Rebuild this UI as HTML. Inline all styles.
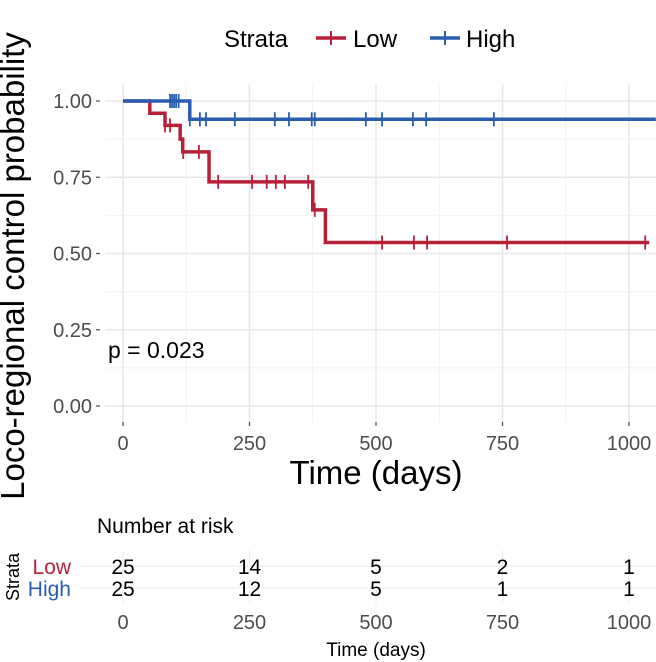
<!DOCTYPE html>
<html><head><meta charset="utf-8"><style>
body{margin:0;background:#fff}
svg{display:block;font-family:"Liberation Sans",sans-serif}
</style></head><body>
<svg id="c" width="656" height="662" viewBox="0 0 656 662">
<g id="grid"></g>
<g id="axes"></g>
<g id="curves"></g>
<text x="24" y="266" font-size="33" text-anchor="middle" transform="rotate(-90 24 266)">Loco-regional control probability</text>
<text x="376" y="484" font-size="33" text-anchor="middle">Time (days)</text>
<text x="108" y="358" font-size="23">p = 0.023</text>
<g>
<text x="224" y="47" font-size="24">Strata</text>
<g><line x1="316" y1="38" x2="346" y2="38" stroke="#b8203a" stroke-width="3.5"/><line x1="331" y1="31" x2="331" y2="45" stroke="#b8203a" stroke-width="2"/><text x="353" y="47" font-size="24">Low</text></g>
<g><line x1="430" y1="38" x2="460" y2="38" stroke="#2a5db0" stroke-width="3.5"/><line x1="445" y1="31" x2="445" y2="45" stroke="#2a5db0" stroke-width="2"/><text x="466" y="47" font-size="24">High</text></g>
</g>
<g id="risk">
<text x="97" y="533" font-size="21">Number at risk</text>
<text x="19" y="577" font-size="18" text-anchor="middle" transform="rotate(-90 19 577)">Strata</text>
<text x="71" y="574" font-size="21" fill="#b8203a" text-anchor="end">Low</text>
<text x="71" y="596" font-size="21" fill="#2a5db0" text-anchor="end">High</text>
<text x="376" y="656" font-size="19" text-anchor="middle">Time (days)</text>
</g>
</svg>
<script>
const xTicks=[0,250,500,750,1000];
const yTicks=[0,0.25,0.5,0.75,1];
const yTickLabels=["0.00","0.25","0.50","0.75","1.00"];
const lowTimes=[0,53,83,113,118,170,375,400,1040];
const lowSurv=[1,0.96,0.92,0.875,0.833,0.735,0.643,0.536,0.536];
const lowCensor=[83,93,119,150,188,255,284,302,320,366,379,512,575,601,759,1032];
const highTimes=[0,132,1053];
const highSurv=[1,0.94,0.94];
const highCensor=[93,97,101,105,110,132,152,164,221,300,328,373,379,480,512,573,599,733];
const riskLow=[25,14,5,2,1];
const riskHigh=[25,12,5,1,1];
const NS="http://www.w3.org/2000/svg";
const X=t=>123+t*0.506, Y=s=>406-s*305;
function mk(p,tag,at,txt){const e=document.createElementNS(NS,tag);for(const k in at)e.setAttribute(k,at[k]);if(txt!==undefined)e.textContent=txt;p.appendChild(e);return e;}
const grid=document.getElementById('grid'),axes=document.getElementById('axes'),curves=document.getElementById('curves'),risk=document.getElementById('risk');
const PL=105,PR=656,PT=84,PB=422;
for(let i=0;i<xTicks.length;i++){const t=xTicks[i]+125;if(X(t)<PR){const l=mk(grid,'line',{x1:X(t),x2:X(t),y1:PT,y2:PB,stroke:'#f2f2f2','stroke-width':1});}}
for(let i=0;i<yTicks.length-1;i++){const s=yTicks[i]+0.125;const l=mk(grid,'line',{x1:PL,x2:PR,y1:Y(s),y2:Y(s),stroke:'#f2f2f2','stroke-width':1});}
xTicks.forEach(t=>{const l=mk(grid,'line',{x1:X(t),x2:X(t),y1:PT,y2:PB,stroke:'#e8e8e8','stroke-width':1.6});
 const tl=mk(axes,'text',{x:X(t),y:450,'font-size':20,fill:'#4d4d4d','text-anchor':'middle'},String(t));
 const tk=mk(axes,'line',{x1:X(t),x2:X(t),y1:PB,y2:PB+4,stroke:'#4d4d4d','stroke-width':1.2});});
yTicks.forEach((s,i)=>{const l=mk(grid,'line',{x1:PL,x2:PR,y1:Y(s),y2:Y(s),stroke:'#e8e8e8','stroke-width':1.6});
 const tl=mk(axes,'text',{x:92,y:Y(s)+7,'font-size':20,fill:'#4d4d4d','text-anchor':'end'},yTickLabels[i]);
 const tk=mk(axes,'line',{x1:96,x2:100,y1:Y(s),y2:Y(s),stroke:'#4d4d4d','stroke-width':1.2});});
function survAt(times,surv,t){let s=surv[0];for(let i=0;i<times.length;i++){if(times[i]<=t)s=surv[i];}return s;}
function drawCurve(times,surv,cens,col,name){
 let d=`M${X(times[0])},${Y(surv[0])}`;
 for(let i=1;i<times.length;i++){d+=` H${X(times[i])} V${Y(surv[i])}`;}
 const p=mk(curves,'path',{d:d,fill:'none',stroke:col,'stroke-width':3.5});
 
 cens.forEach(t=>{const y=Y(survAt(times,surv,t));const c=mk(curves,'line',{x1:X(t),x2:X(t),y1:y-7,y2:y+7,stroke:col,'stroke-width':1.8});
  });
}
drawCurve(lowTimes,lowSurv,lowCensor,'#b8203a','low');
drawCurve(highTimes,highSurv,highCensor,'#2a5db0','high');
xTicks.forEach((t,i)=>{
 const g=mk(risk,'line',{x1:X(t),x2:X(t),y1:550,y2:604,stroke:'#f0f0f0','stroke-width':1.2});
 const a=mk(risk,'text',{x:X(t),y:574,'font-size':21,'text-anchor':'middle'},String(riskLow[i]));
 const b=mk(risk,'text',{x:X(t),y:596,'font-size':21,'text-anchor':'middle'},String(riskHigh[i]));
 const c=mk(risk,'text',{x:X(t),y:629,'font-size':20,fill:'#4d4d4d','text-anchor':'middle'},String(t));
});
[566,588].forEach(y=>{const l=mk(risk,'line',{x1:80,x2:656,y1:y,y2:y,stroke:'#ececec','stroke-width':1.2});risk.insertBefore(l,risk.firstChild);});
</script>
</body></html>
